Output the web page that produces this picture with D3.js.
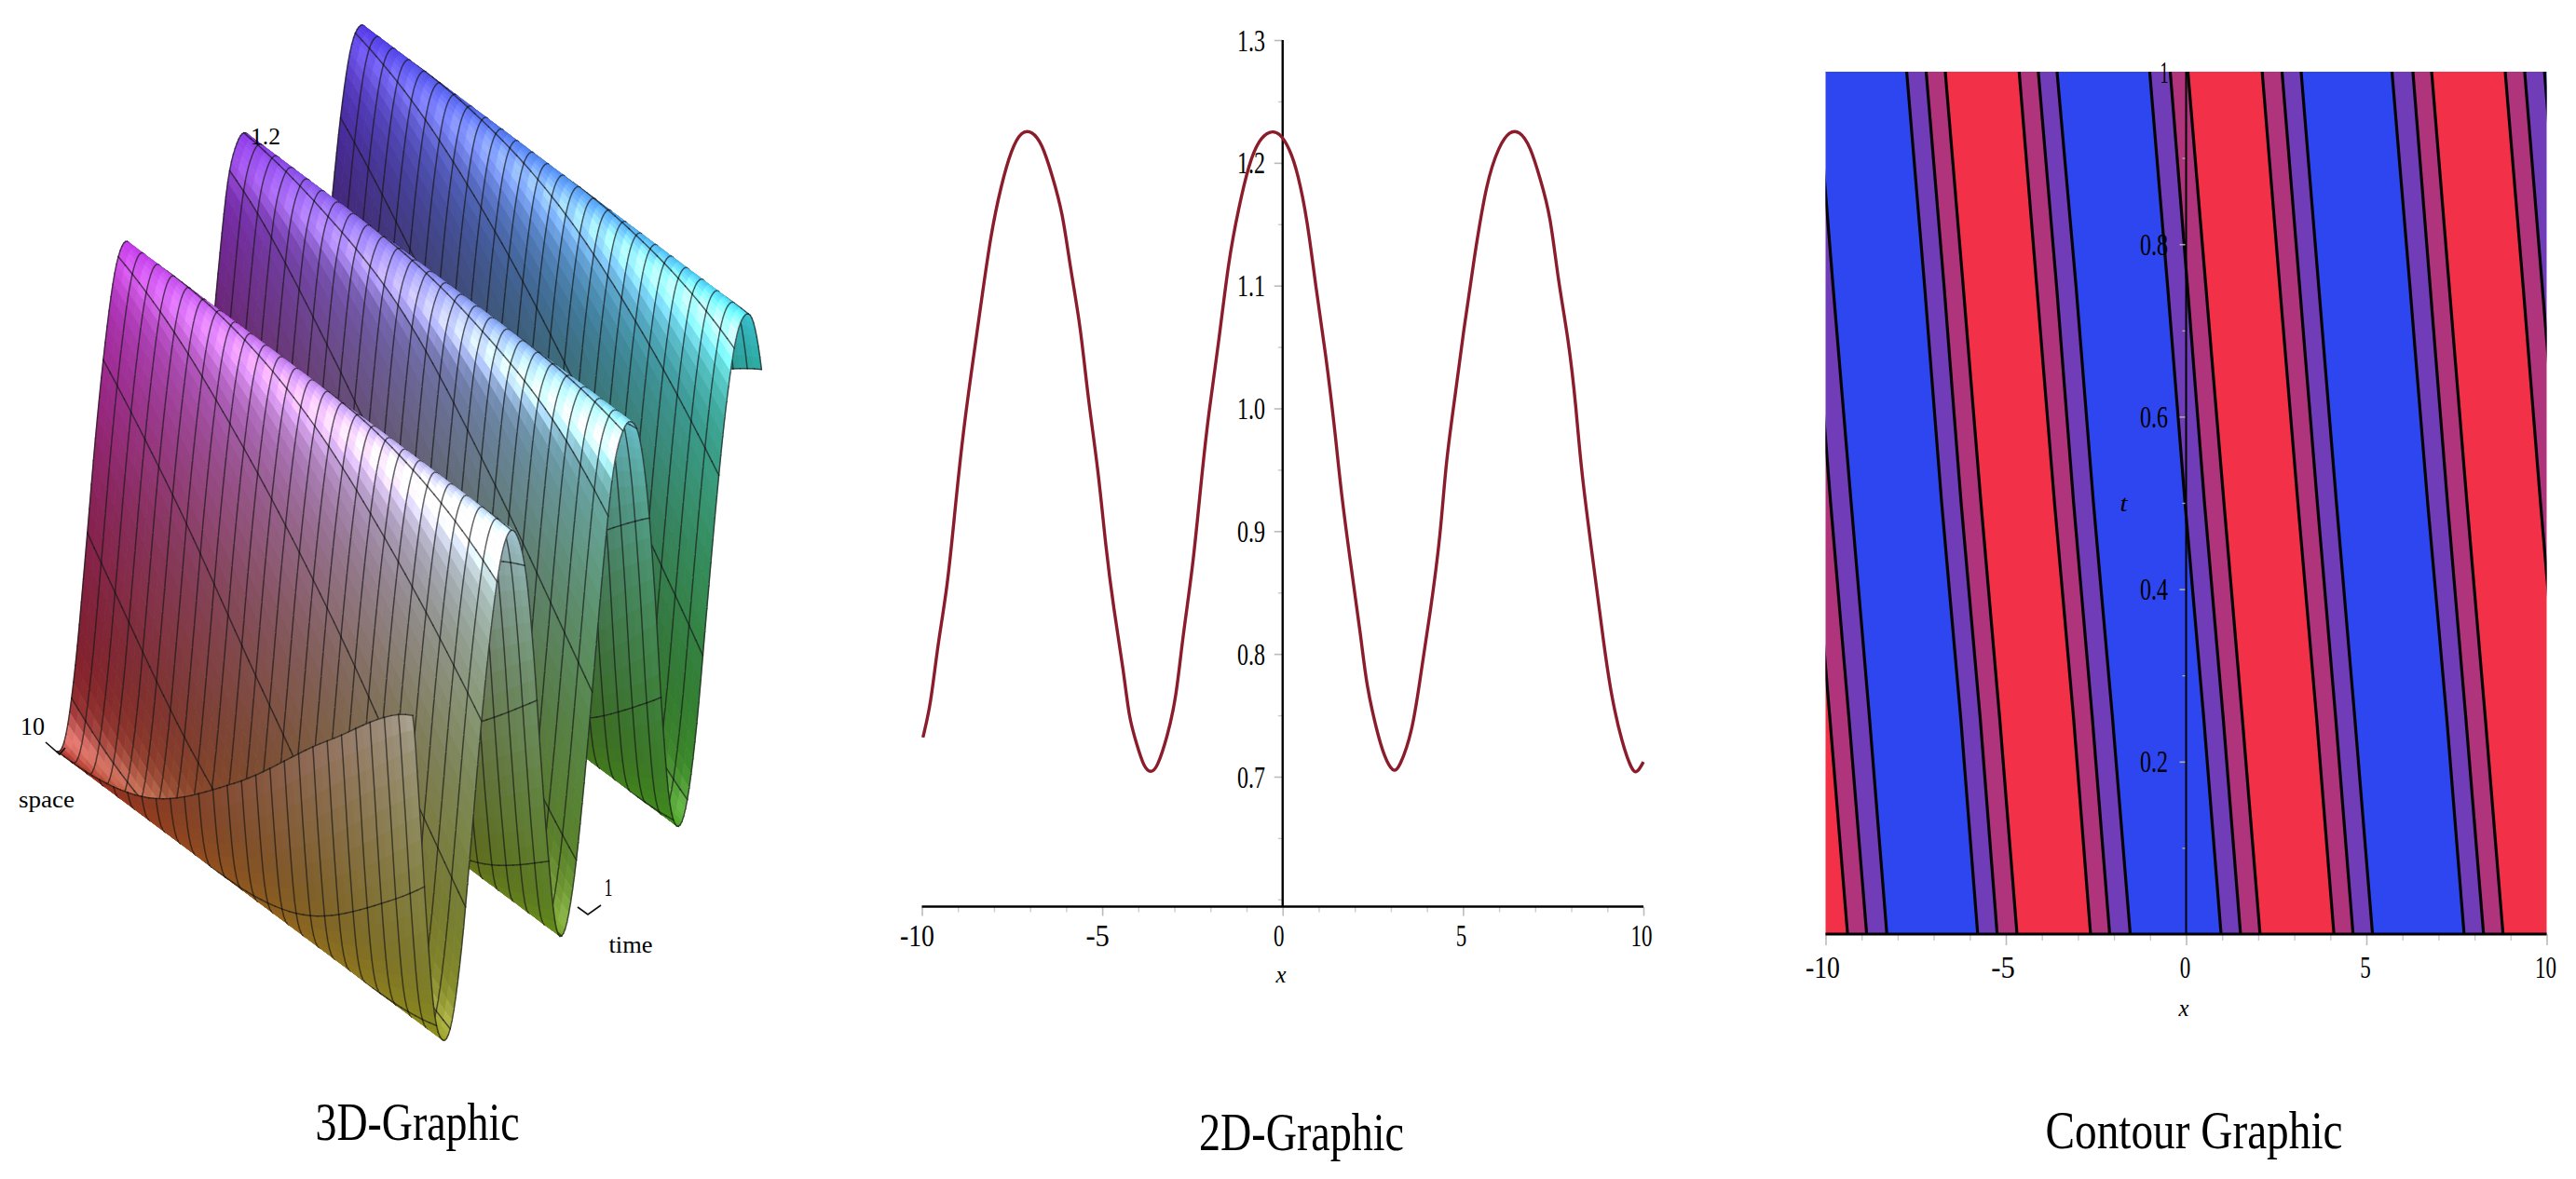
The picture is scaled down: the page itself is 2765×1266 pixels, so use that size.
<!DOCTYPE html>
<html>
<head>
<meta charset="utf-8">
<title>Travelling wave: 3D, 2D and contour graphics</title>
<script src="https://cdnjs.cloudflare.com/ajax/libs/d3/7.8.5/d3.min.js"></script>
<style>
  html, body { margin: 0; padding: 0; background: #fff; }
  svg { display: block; }
  text { font-family: "Liberation Serif", serif; fill: #000; }
</style>
</head>
<body>
<svg id="fig" width="2765" height="1266"></svg>
<script>
// Solution profile u(x) at fixed time, as plotted in the 2D panel
const curveX = [-9.97,-9.75,-9.57,-9.29,-9.08,-8.87,-8.65,-8.37,-8.09,-7.8,-7.52,-7.24,-6.95,-6.67,-6.39,-6.1,-5.89,-5.6,-5.4,-5.11,-4.9,-4.69,-4.4,-4.26,-4.05,-3.84,-3.65,-3.48,-3.2,-2.95,-2.78,-2.49,-2.28,-2.07,-1.78,-1.5,-1.22,-0.93,-0.65,-0.37,-0.08,0.2,0.41,0.69,0.91,1.19,1.47,1.61,1.9,2.18,2.32,2.61,2.82,3.06,3.24,3.6,3.81,4.09,4.38,4.52,4.8,5.01,5.3,5.65,6,6.29,6.57,6.86,7.14,7.42,7.63,7.92,8.13,8.27,8.63,8.91,9.12,9.41,9.69,9.83,10];
const curveU = [0.732,0.759,0.806,0.854,0.918,0.977,1.025,1.083,1.142,1.182,1.211,1.226,1.226,1.216,1.19,1.16,1.115,1.067,1.009,0.95,0.886,0.838,0.785,0.748,0.727,0.707,0.703,0.707,0.732,0.764,0.812,0.87,0.934,0.993,1.051,1.121,1.163,1.2,1.219,1.226,1.225,1.211,1.193,1.153,1.1,1.046,0.977,0.934,0.87,0.812,0.775,0.737,0.716,0.703,0.707,0.737,0.78,0.833,0.897,0.956,1.014,1.062,1.121,1.185,1.214,1.226,1.226,1.214,1.187,1.158,1.105,1.057,1.003,0.95,0.87,0.806,0.764,0.727,0.704,0.703,0.712];

// Cross-section of the surface, tabulated every half unit of space from -10 to 12
const sectionStart = -10, sectionStep = 0.5;
const sectionU = [0.73,0.81,0.92,1.05,1.15,1.21,1.225,1.205,1.14,1.04,0.92,0.80,0.725,0.707,0.745,0.855,1.0,1.12,1.195,1.223,1.22,1.185,1.09,0.97,0.85,0.755,0.707,0.72,0.81,0.93,1.06,1.16,1.21,1.225,1.20,1.13,1.03,0.905,0.79,0.72,0.71,0.75,0.86,1.0,1.12];
const waveSpeed = 1.97;          // crest drift in space per unit of time
const gridSpaceLines = 25, gridTimeLines = 25;

// Contour positions in x at each time level, ordered left to right
const contourTimes = [0, 0.25, 0.5, 0.75, 1];
const contourLines = [
  [-9.39,-9.88,-10.38,-10.87,-11.36],
  [-8.86,-9.35,-9.86,-10.33,-10.83],
  [-8.30,-8.78,-9.29,-9.79,-10.27],
  [-5.78,-6.25,-6.78,-7.25,-7.75],
  [-5.24,-5.71,-6.24,-6.71,-7.21],
  [-4.69,-5.17,-5.69,-6.18,-6.68],
  [-2.65,-3.12,-3.65,-4.14,-4.63],
  [-2.12,-2.60,-3.12,-3.59,-4.10],
  [-1.55,-2.04,-2.57,-3.05,-3.58],
  [0.97,0.49,-0.03,-0.51,-1.01],
  [1.51,1.03,0.51,0.04,-0.44],
  [2.05,1.56,1.05,0.55,0.05],
  [4.10,3.62,3.10,2.60,2.11],
  [4.63,4.15,3.64,3.15,2.66],
  [5.17,4.68,4.17,3.68,3.19],
  [7.71,7.23,6.70,6.21,5.71],
  [8.25,7.76,7.25,6.77,6.29],
  [8.79,8.30,7.79,7.30,6.81],
  [10.83,10.34,9.83,9.35,8.85],
  [11.36,10.87,10.37,9.88,9.39],
  [11.90,11.42,10.91,10.42,9.94]
];
// Fill of each band, from the left edge through the gap after each contour
const bandColors = ["#F23048","#B0347C","#703CB8","#2E46F0","#703CB8","#B0347C","#F23048","#B0347C","#703CB8","#2E46F0","#703CB8","#B0347C","#F23048","#B0347C","#703CB8","#2E46F0","#703CB8","#B0347C","#F23048","#B0347C","#703CB8","#2E46F0"];

// Tick values
const xMajorTicks = [-10,-5,0,5,10];
const xMinorTicks = [-9,-8,-7,-6,-4,-3,-2,-1,1,2,3,4,6,7,8,9];
const yTicks2D = [0.7,0.8,0.9,1.0,1.1,1.2,1.3];
const yMinor2D = [0.6,0.65,0.75,0.85,0.95,1.05,1.15,1.25];
const tTicks = [0.2,0.4,0.6,0.8];
const tMinor = [0.1,0.3,0.5,0.7,0.9];

const svg = d3.select("#fig");

// Narrow, tall labels: the advance width is fixed independently of the glyph height
function charsWidth(s) {
  let w = 0;
  for (const c of s) w += c === "-" ? 14 : c === "." ? 7 : 11.5;
  return w;
}
function label(g, s, cx, base, size, width, italic) {
  return g.append("text")
    .attr("x", cx - width / 2).attr("y", base)
    .attr("font-size", size)
    .attr("font-style", italic ? "italic" : "normal")
    .attr("textLength", width)
    .attr("lengthAdjust", "spacingAndGlyphs")
    .text(s);
}
function styleAxis(sel, tickColor, tickWidth) {
  sel.select(".domain").remove();
  sel.selectAll(".tick line").attr("stroke", tickColor).attr("stroke-width", tickWidth);
  sel.selectAll(".tick text").remove();
  sel.attr("fill", null).attr("font-family", null).attr("font-size", null);
}

// ---------- 3D surface ----------
const surface = svg.append("g");

function waveAt(x) {
  // Catmull-Rom evaluation over the tabulated cross-section
  const p = (x - sectionStart) / sectionStep;
  const i = Math.max(0, Math.min(sectionU.length - 2, Math.floor(p)));
  const f = p - i;
  const y0 = sectionU[Math.max(0, i - 1)], y1 = sectionU[i];
  const y2 = sectionU[i + 1], y3 = sectionU[Math.min(sectionU.length - 1, i + 2)];
  return 0.5 * (2 * y1 + (y2 - y0) * f + (2 * y0 - 5 * y1 + 4 * y2 - y3) * f * f + (3 * y1 - y0 - 3 * y2 + y3) * f * f * f);
}
const uAt = (x, t) => waveAt(x + waveSpeed * t);

// Oblique projection: each of space, time and height adds a screen offset
const ox = 65, oy = 808;
const spaceX = d3.scaleLinear().domain([-10, 10]).range([370.3, -3.74]);
const spaceY = d3.scaleLinear().domain([-10, 10]).range([-340.6, 3.44]);
const timeX = d3.scaleLinear().domain([0, 1]).range([0, 377]);
const timeY = d3.scaleLinear().domain([0, 1]).range([0, 344]);
const heightX = d3.scaleLinear().domain([0.705, 1.225]).range([0, 6]);
const heightY = d3.scaleLinear().domain([0.705, 1.225]).range([0, -490]);
const proj = (x, t) => {
  const u = uAt(x, t);
  return [ox + spaceX(x) + timeX(t) + heightX(u), oy + spaceY(x) + timeY(t) + heightY(u)];
};

// Colour from position (x → red, t → green, height → blue) with steep-face dimming and highlights
const clamp01 = d3.scaleLinear().domain([0, 1]).range([0, 1]).clamp(true);
function shade(x, t) {
  const u = uAt(x, t);
  const s = (uAt(x + 0.05, t) - uAt(x - 0.05, t)) / 0.1;
  const xn = (x + 10) / 20, un = Math.max(0, (u - 0.705) / 0.52);
  const r = 0.24 + 0.70 * xn, g = 0.22 + 0.68 * t, b = 0.17 + 0.80 * un;
  const steep = Math.min(1, Math.abs(s) / 0.27);
  const diffuse = (0.68 + 0.24 * un) - 0.20 * Math.pow(steep, 0.8);
  const cell = (t * gridTimeLines) % 1;
  const lobe = Math.exp(-Math.pow((s + 0.075) / 0.06, 2));
  const spec = lobe * (0.14 + 0.42 * t) * (0.25 + 0.75 * un) * (0.72 + 0.5 * cell)
    + lobe * Math.pow(1 - un, 2) * 0.34 * Math.pow(1 - t, 3) * xn;
  const toByte = v => Math.round(255 * clamp01(v));
  return `rgb(${toByte(r * diffuse + spec)},${toByte(g * diffuse + spec)},${toByte(b * diffuse + spec)})`;
}

const spaceCells = 200, timeCells = 50;
const cellX = d3.range(spaceCells + 1).map(i => -10 + 20 * i / spaceCells);
const cellT = d3.range(timeCells + 1).map(j => j / timeCells);
const spaceEvery = spaceCells / gridSpaceLines, timeEvery = timeCells / gridTimeLines;
const poly = d3.line();
const gridLine = (a, b) => surface.append("path")
  .attr("d", poly([a, b]))
  .attr("fill", "none").attr("stroke", "rgba(22,22,22,0.66)").attr("stroke-width", 1.5).attr("stroke-linecap", "round");
const spaceLine = xl => {
  for (let j = 0; j < timeCells; j++) gridLine(proj(xl, cellT[j]), proj(xl, cellT[j + 1]));
};

// Painter's order: far strips first, so nearer ridges hide what is behind them
for (let i = 0; i < spaceCells; i++) {
  for (let j = 0; j < timeCells; j++) {
    const x0 = cellX[i], x1 = cellX[i + 1], t0 = cellT[j], t1 = cellT[j + 1];
    const col = shade((x0 + x1) / 2, (t0 + t1) / 2);
    surface.append("path")
      .attr("d", poly([proj(x0, t0), proj(x1, t0), proj(x1, t1), proj(x0, t1)]) + "Z")
      .attr("fill", col).attr("stroke", col).attr("stroke-width", 0.8);
  }
  if (i % spaceEvery === 0) spaceLine(cellX[i]);
  for (let j = 0; j <= timeCells; j += timeEvery) {
    gridLine(proj(cellX[i], cellT[j]), proj(cellX[i + 1], cellT[j]));
  }
}
spaceLine(cellX[spaceCells]);

const notes3D = svg.append("g");
label(notes3D, "1.2", 285, 155, 25, 32);
label(notes3D, "10", 35, 789, 28, 26);
label(notes3D, "space", 50, 867, 25, 60);
label(notes3D, "1", 653, 962, 28, 9);
label(notes3D, "time", 677, 1023, 25, 47);
notes3D.append("path").attr("d", "M49,797L64,810L70,803").attr("fill", "none").attr("stroke", "#111").attr("stroke-width", 1.6);
notes3D.append("path").attr("d", "M620,974L631,982L645,972").attr("fill", "none").attr("stroke", "#111").attr("stroke-width", 1.6);
label(svg, "3D-Graphic", 448, 1224, 57, 219);

// ---------- 2D profile ----------
const x2D = d3.scaleLinear().domain([-10, 10]).range([989.5, 1764]);
const y2D = d3.scaleLinear().domain([0.7, 1.3]).range([834, 43]);
const axisY2D = 973.5, axisX2D = x2D(0);
const panel2 = svg.append("g");

panel2.append("g").attr("transform", `translate(0,${axisY2D})`)
  .call(d3.axisBottom(x2D).tickValues(xMajorTicks).tickSize(10)).call(styleAxis, "#bbb", 1.6);
panel2.append("g").attr("transform", `translate(0,${axisY2D})`)
  .call(d3.axisBottom(x2D).tickValues(xMinorTicks).tickSize(6)).call(styleAxis, "#ccc", 1.4);
panel2.append("g").attr("transform", `translate(${axisX2D},0)`)
  .call(d3.axisLeft(y2D).tickValues(yTicks2D).tickSize(9)).call(styleAxis, "#bbb", 1.6);
panel2.append("g").attr("transform", `translate(${axisX2D},0)`)
  .call(d3.axisLeft(y2D).tickValues(yMinor2D).tickSize(5)).call(styleAxis, "#ccc", 1.4);

panel2.append("line").attr("x1", x2D(-10)).attr("x2", x2D(10)).attr("y1", axisY2D).attr("y2", axisY2D)
  .attr("stroke", "#000").attr("stroke-width", 2.6);
panel2.append("line").attr("x1", axisX2D).attr("x2", axisX2D).attr("y1", y2D(1.3)).attr("y2", axisY2D)
  .attr("stroke", "#000").attr("stroke-width", 2.4);

xMajorTicks.forEach(v => {
  const s = String(v);
  label(panel2, s, x2D(v) + (v < 0 ? -5 : v === 0 ? -4 : -2), 1016, 34, charsWidth(s));
});
yTicks2D.forEach(v => {
  const s = v.toFixed(1), w = charsWidth(s);
  label(panel2, s, 1358 - w / 2, y2D(v) + 11.5, 34, w);
});
label(panel2, "x", 1375, 1055, 26, 11, true);

panel2.append("path")
  .datum(d3.zip(curveX, curveU))
  .attr("d", d3.line().x(d => x2D(d[0])).y(d => y2D(d[1])).curve(d3.curveBasis))
  .attr("fill", "none").attr("stroke", "#8A1C2C").attr("stroke-width", 3.4);

label(svg, "2D-Graphic", 1397, 1235, 57, 220);

// ---------- Contour panel ----------
const xC = d3.scaleLinear().domain([-10, 10]).range([1959.5, 2733.5]);
const yC = d3.scaleLinear().domain([0, 1]).range([1003, 77]);
const panel3 = svg.append("g");

svg.append("defs").append("clipPath").attr("id", "contourClip")
  .append("rect").attr("x", xC(-10)).attr("y", yC(1)).attr("width", xC(10) - xC(-10)).attr("height", yC(0) - yC(1));
const clipped = panel3.append("g").attr("clip-path", "url(#contourClip)");

const farLeft = contourTimes.map(() => -14), farRight = contourTimes.map(() => 14);
const edges = [farLeft, ...contourLines, farRight];
const band = d3.area()
  .y(d => yC(d[0])).x0(d => xC(d[1])).x1(d => xC(d[2])).curve(d3.curveMonotoneY);
bandColors.forEach((c, i) => {
  clipped.append("path")
    .datum(contourTimes.map((t, k) => [t, edges[i][k], edges[i + 1][k]]))
    .attr("d", band).attr("fill", c).attr("stroke", c).attr("stroke-width", 0.6);
});
const contourPath = d3.line().x(d => xC(d[1])).y(d => yC(d[0])).curve(d3.curveMonotoneY);
clipped.selectAll("path.contour").data(contourLines).join("path")
  .attr("class", "contour")
  .attr("d", row => contourPath(contourTimes.map((t, k) => [t, row[k]])))
  .attr("fill", "none").attr("stroke", "#050505").attr("stroke-width", 3.2);

panel3.append("g").attr("transform", `translate(0,${yC(0)})`)
  .call(d3.axisBottom(xC).tickValues(xMajorTicks).tickSize(12)).call(styleAxis, "#bbb", 1.6);
panel3.append("g").attr("transform", `translate(0,${yC(0)})`)
  .call(d3.axisBottom(xC).tickValues(xMinorTicks).tickSize(7)).call(styleAxis, "#ccc", 1.4);
panel3.append("g").attr("transform", `translate(${xC(0)},0)`)
  .call(d3.axisLeft(yC).tickValues(tTicks).tickSize(7)).call(styleAxis, "#aaa", 1.6);
panel3.append("g").attr("transform", `translate(${xC(0)},0)`)
  .call(d3.axisLeft(yC).tickValues(tMinor).tickSize(4)).call(styleAxis, "#aaa", 1.4);

panel3.append("line").attr("x1", xC(-10)).attr("x2", xC(10)).attr("y1", yC(0)).attr("y2", yC(0))
  .attr("stroke", "#000").attr("stroke-width", 3.2);
panel3.append("line").attr("x1", xC(0)).attr("x2", xC(0)).attr("y1", yC(1)).attr("y2", yC(0))
  .attr("stroke", "#000").attr("stroke-width", 2);

xMajorTicks.forEach(v => {
  const s = String(v), w = charsWidth(s);
  label(panel3, s, xC(v) + (v < 0 ? -3 : -1), 1050, 34, w);
});
tTicks.forEach(v => {
  const s = v.toFixed(1), w = charsWidth(s);
  label(panel3, s, 2327 - w / 2, yC(v) + 11.5, 34, w);
});
label(panel3, "1", 2323, 89, 34, 9);
label(panel3, "t", 2279.5, 549, 26, 8, true);
label(panel3, "x", 2344, 1091, 26, 11, true);

label(svg, "Contour Graphic", 2355, 1233, 57, 319);
</script>
</body>
</html>
